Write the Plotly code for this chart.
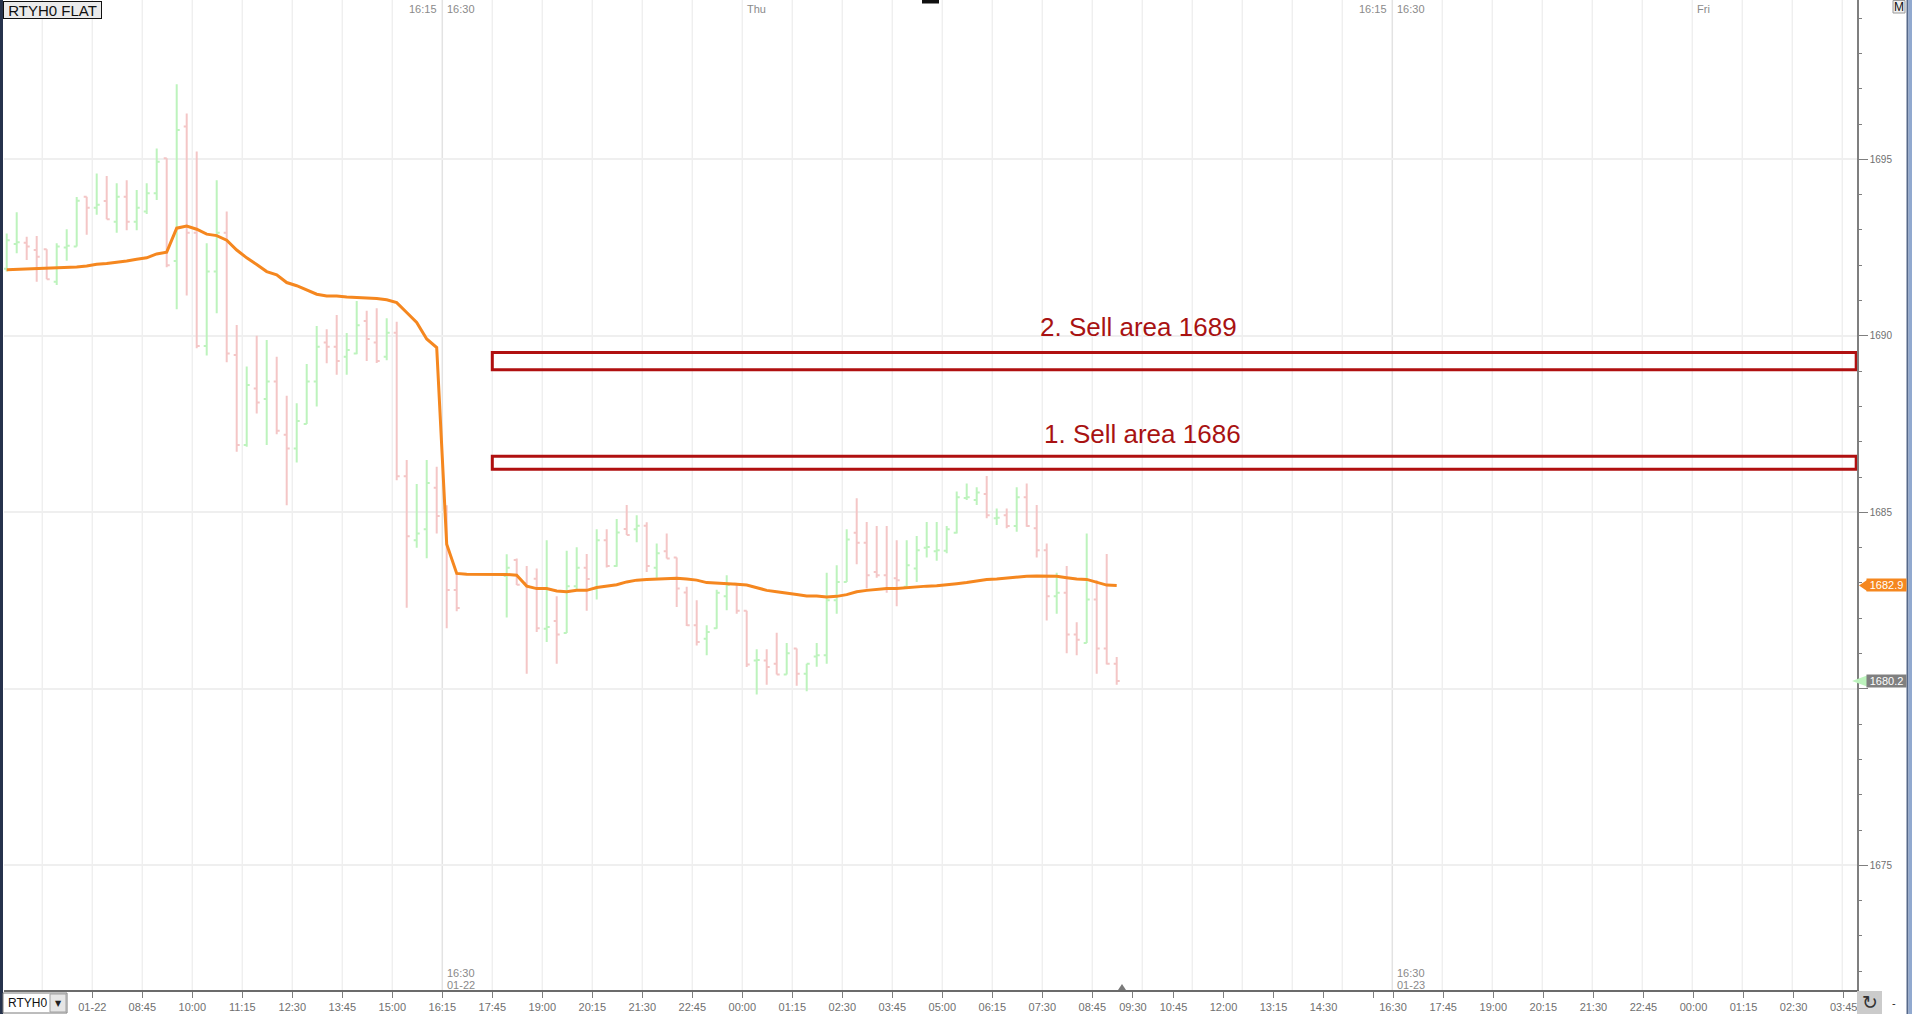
import plotly.graph_objects as go

# ---------------------------------------------------------------
# RTYH0, 15 minute bars (index 0 = first bar on screen)
# bars 46-49 are the session break (no prices, average line continues)
# ---------------------------------------------------------------
opens = [
    1691.90, 1692.60, 1692.64, 1692.43, 1692.45, 1691.53, 1692.50, 1692.53, 1693.94, 1693.63,
    1693.82, 1693.23, 1693.94, 1693.23, 1693.52, 1694.04, 1695.03, 1692.12, 1695.93, 1692.92,
    1689.71, 1691.82, 1692.92, 1689.46, 1686.91, 1688.51, 1688.21, 1688.71, 1687.20, 1686.81,
    1687.50, 1688.71, 1689.81, 1689.69, 1689.41, 1689.50, 1690.42, 1689.81, 1689.41, 1690.09,
    1686.02, 1684.21, 1684.52, 1685.70, 1685.11, 1682.80, None, None, None, None,
    1683.20, 1683.65, 1683.00, 1683.12, 1681.70, 1681.92, 1681.58, 1682.91, 1683.43, 1682.84,
    1684.21, 1683.48, 1684.53, 1684.52, 1684.62, 1683.43, 1683.90, 1683.72, 1682.73, 1681.80,
    1681.42, 1681.72, 1682.62, 1682.98, 1682.21, 1680.80, 1680.80, 1680.71, 1680.41, 1681.14,
    1680.43, 1680.92, 1680.95, 1682.51, 1683.03, 1684.42, 1684.14, 1683.31, 1683.22, 1683.13,
    1682.89, 1683.41, 1684.00, 1683.90, 1683.91, 1684.42, 1685.41, 1685.35, 1685.52, 1684.83,
    1684.92, 1684.61, 1685.43, 1684.55, 1683.93, 1682.62, 1682.72, 1681.54, 1681.30, 1682.53,
    1681.14, 1680.71,
]
highs = [
    1692.90, 1693.50, 1692.81, 1692.83, 1692.45, 1692.62, 1693.02, 1693.93, 1693.94, 1694.60,
    1694.53, 1694.32, 1694.41, 1694.13, 1694.32, 1695.31, 1695.03, 1697.13, 1696.30, 1695.22,
    1692.62, 1694.41, 1693.52, 1690.31, 1689.13, 1690.00, 1689.88, 1689.41, 1688.30, 1688.09,
    1689.20, 1690.28, 1690.19, 1690.59, 1690.08, 1690.99, 1690.71, 1690.78, 1690.50, 1690.40,
    1686.48, 1685.80, 1686.48, 1686.29, 1685.20, 1683.25, None, None, None, None,
    1683.81, 1683.69, 1683.48, 1683.41, 1684.21, 1682.62, 1683.91, 1684.01, 1683.82, 1684.52,
    1684.52, 1684.81, 1685.21, 1684.92, 1684.72, 1684.12, 1684.40, 1683.72, 1682.89, 1682.51,
    1681.80, 1682.81, 1683.22, 1682.98, 1682.21, 1681.12, 1681.12, 1681.59, 1681.30, 1681.14,
    1680.71, 1681.30, 1683.29, 1683.50, 1684.52, 1685.40, 1684.73, 1684.61, 1684.61, 1684.21,
    1684.21, 1684.33, 1684.73, 1684.73, 1684.61, 1685.59, 1685.82, 1685.71, 1686.03, 1685.11,
    1685.11, 1685.71, 1685.82, 1685.21, 1684.12, 1683.29, 1683.48, 1681.89, 1684.40, 1683.08,
    1683.82, 1680.90,
]
lows = [
    1691.82, 1692.34, 1692.15, 1691.53, 1691.60, 1691.44, 1692.13, 1692.53, 1692.86, 1693.43,
    1693.30, 1692.92, 1692.99, 1692.99, 1693.45, 1693.85, 1691.94, 1690.75, 1691.14, 1689.65,
    1689.44, 1690.64, 1689.25, 1686.72, 1686.86, 1687.80, 1686.91, 1687.21, 1685.20, 1686.41,
    1687.50, 1688.00, 1689.22, 1688.90, 1688.90, 1689.48, 1689.29, 1689.23, 1689.31, 1685.91,
    1682.30, 1684.00, 1683.70, 1684.40, 1681.72, 1682.20, None, None, None, None,
    1682.02, 1682.94, 1680.43, 1681.61, 1681.33, 1680.71, 1681.58, 1682.79, 1682.21, 1682.53,
    1683.44, 1683.46, 1684.36, 1684.15, 1683.31, 1683.15, 1683.69, 1682.32, 1681.78, 1681.23,
    1680.95, 1681.70, 1682.23, 1682.13, 1680.62, 1679.84, 1680.12, 1680.41, 1680.41, 1680.09,
    1679.93, 1680.63, 1680.71, 1682.13, 1683.03, 1683.53, 1682.84, 1683.15, 1682.72, 1682.34,
    1682.84, 1683.03, 1683.72, 1683.63, 1683.84, 1684.40, 1685.35, 1685.21, 1684.83, 1684.64,
    1684.55, 1684.45, 1684.59, 1683.72, 1681.94, 1682.13, 1681.01, 1680.95, 1681.30, 1680.43,
    1680.69, 1680.12,
]
closes = [
    1692.71, 1692.65, 1692.53, 1692.24, 1691.60, 1692.53, 1692.55, 1693.83, 1693.63, 1693.71,
    1693.30, 1693.94, 1693.23, 1693.63, 1694.04, 1694.93, 1692.00, 1695.83, 1692.92, 1689.71,
    1691.82, 1692.92, 1689.50, 1686.91, 1688.61, 1688.11, 1688.71, 1687.31, 1686.81, 1687.59,
    1688.71, 1689.69, 1689.69, 1689.29, 1689.60, 1690.30, 1689.91, 1689.29, 1690.09, 1686.02,
    1684.32, 1684.40, 1685.83, 1684.90, 1682.80, 1682.29, None, None, None, None,
    1683.43, 1682.95, 1682.90, 1681.72, 1681.75, 1681.54, 1682.91, 1683.43, 1683.11, 1684.21,
    1683.48, 1684.43, 1684.36, 1684.62, 1683.48, 1683.84, 1683.69, 1682.84, 1681.80, 1681.33,
    1681.61, 1682.72, 1682.94, 1682.21, 1680.69, 1680.82, 1680.62, 1680.41, 1681.01, 1680.43,
    1680.71, 1680.95, 1682.51, 1683.03, 1684.23, 1684.14, 1683.22, 1683.22, 1682.84, 1683.08,
    1683.50, 1683.93, 1684.02, 1683.93, 1684.52, 1685.43, 1685.43, 1685.56, 1684.92, 1684.85,
    1684.61, 1685.43, 1684.61, 1683.93, 1682.62, 1682.72, 1681.54, 1681.39, 1682.53, 1681.14,
    1680.71, 1680.22,
]
avg_line = [
    1691.87, 1691.88, 1691.90, 1691.91, 1691.91, 1691.91, 1691.94, 1691.95, 1691.98, 1692.03,
    1692.05, 1692.08, 1692.12, 1692.17, 1692.21, 1692.32, 1692.37, 1693.05, 1693.11, 1693.02,
    1692.88, 1692.84, 1692.71, 1692.43, 1692.21, 1692.02, 1691.82, 1691.73, 1691.51, 1691.42,
    1691.29, 1691.18, 1691.13, 1691.13, 1691.10, 1691.09, 1691.09, 1691.06, 1691.02, 1690.94,
    1690.66, 1690.38, 1689.91, 1689.67, 1684.10, 1683.27, 1683.25, 1683.25, 1683.25, 1683.25,
    1683.24, 1683.22, 1682.91, 1682.84, 1682.84, 1682.77, 1682.75, 1682.79, 1682.79, 1682.87,
    1682.92, 1682.95, 1683.03, 1683.08, 1683.10, 1683.11, 1683.13, 1683.13, 1683.11, 1683.08,
    1683.01, 1683.00, 1682.98, 1682.96, 1682.94, 1682.87, 1682.79, 1682.75, 1682.70, 1682.67,
    1682.63, 1682.63, 1682.60, 1682.62, 1682.67, 1682.75, 1682.79, 1682.82, 1682.84, 1682.84,
    1682.87, 1682.89, 1682.91, 1682.92, 1682.94, 1682.98, 1683.01, 1683.06, 1683.10, 1683.11,
    1683.14, 1683.15, 1683.19, 1683.20, 1683.19, 1683.19, 1683.15, 1683.11, 1683.10, 1683.01,
    1682.94, 1682.93,
]

# time axis (positions in bar slots)
tick_pos = [8.56 + 5 * k for k in range(21)] + [
    112.62, 116.68, 121.68, 126.68, 131.68, 136.68, 138.63, 143.65,
    148.66, 153.66, 158.67, 163.67, 168.68, 173.68, 178.69, 183.70,
]
tick_text = [
    "01-22", "08:45", "10:00", "11:15", "12:30", "13:45", "15:00", "16:15",
    "17:45", "19:00", "20:15", "21:30", "22:45", "00:00", "01:15", "02:30",
    "03:45", "05:00", "06:15", "07:30", "08:45",
    "09:30", "10:45", "12:00", "13:15", "14:30", "", "16:30", "17:45",
    "19:00", "20:15", "21:30", "22:45", "00:00", "01:15", "02:30", "03:45",
]

# price scale (1680 label sits under the last-price box)
price_ticks = [1675, 1680, 1685, 1690, 1695]
price_text = ["1675", "", "1685", "1690", "1695"]

# drawn sell zones: (label, low, high, label slot)
sell_zones = [
    ("2. Sell area 1689", 1689.04, 1689.53, 113.13),
    ("1. Sell area 1686", 1686.22, 1686.59, 113.56),
]
zone_start = 48.56

# ---------------------------------------------------------------
W, H = 1912, 1014
ML, MR, MT, MB = 4, 55, 0, 24
PW, PH = W - ML - MR, H - MT - MB
X_RANGE = [-0.27, 185.03]
Y_RANGE = [1671.47, 1699.513]

GREEN = "#bdf3bd"
PINK = "#f4c6c6"
ORANGE = "#f5871f"
ZONE_RED = "#b01010"
GRID = "#efefef"
AXIS_GRAY = "#7f7f7f"
TXT_GRAY = "#6f6f6f"
FONT = "Liberation Sans, Arial, sans-serif"
NARROW = "Liberation Sans Narrow, Liberation Sans, Arial, sans-serif"


def px_x(px):
    return (px - ML) / PW


def px_y(py):
    return 1 - (py - MT) / PH


def label(text, x, y, size, color, family=FONT, xanchor="center", yanchor="middle", **kw):
    return dict(text=text, xref="paper", yref="paper", x=px_x(x), y=px_y(y), xanchor=xanchor,
                yanchor=yanchor, showarrow=False, font=dict(family=family, size=size, color=color), **kw)


idx = [i for i in range(len(opens)) if opens[i] is not None]

fig = go.Figure()
fig.add_trace(go.Ohlc(
    x=idx,
    open=[opens[i] for i in idx],
    high=[highs[i] for i in idx],
    low=[lows[i] for i in idx],
    close=[closes[i] for i in idx],
    increasing=dict(line=dict(color=GREEN, width=2)),
    decreasing=dict(line=dict(color=PINK, width=2)),
    tickwidth=0.3,
    hoverinfo="skip",
    showlegend=False,
))
fig.add_trace(go.Scatter(
    x=list(range(len(avg_line))),
    y=avg_line,
    mode="lines",
    line=dict(color=ORANGE, width=3),
    hoverinfo="skip",
    showlegend=False,
))

shapes = []
# vertical grid every 5 slots, session breaks a bit darker
for k in range(37):
    gx = 3.56 + 5 * k
    shapes.append(dict(type="line", xref="x", yref="paper", x0=gx, x1=gx, y0=0, y1=1,
                       line=dict(color="#e3e3e3" if k in (8, 27) else GRID, width=1.5),
                       layer="below"))

for text, lo, hi, tx in sell_zones:
    shapes.append(dict(type="rect", xref="x", yref="y", x0=zone_start, x1=X_RANGE[1] - 0.08,
                       y0=lo, y1=hi, line=dict(color=ZONE_RED, width=3)))

# price markers on the right scale
last_avg = avg_line[-1]
last_close = closes[-1]
hh = 5.5 / 35.3
shapes.append(dict(type="path", xref="paper", yref="y", fillcolor=ORANGE, line=dict(width=0),
                   path=f"M {px_x(1859)} {last_avg} L {px_x(1867)} {last_avg + hh} "
                        f"L {px_x(1867)} {last_avg - hh} Z"))
shapes.append(dict(type="path", xref="paper", yref="y", fillcolor=GREEN, line=dict(width=0),
                   path=f"M {px_x(1852)} {last_close} L {px_x(1867)} {last_close + hh} "
                        f"L {px_x(1867)} {last_close - hh} Z"))

# window chrome
shapes += [
    dict(type="rect", xref="paper", yref="paper", x0=px_x(0), x1=px_x(3), y0=px_y(H), y1=px_y(0),
         fillcolor="#26324c", line=dict(width=0)),
    dict(type="rect", xref="paper", yref="paper", x0=px_x(1906.5), x1=px_x(1908.5), y0=px_y(H), y1=px_y(0),
         fillcolor="#56698a", line=dict(width=0)),
    dict(type="rect", xref="paper", yref="paper", x0=px_x(1908.5), x1=px_x(1912), y0=px_y(H), y1=px_y(0),
         fillcolor="#91a9cf", line=dict(width=0)),
    dict(type="rect", xref="paper", yref="paper", x0=px_x(922), x1=px_x(939), y0=px_y(3.5), y1=px_y(0),
         fillcolor="#111111", line=dict(width=0)),
    dict(type="rect", xref="paper", yref="paper", x0=px_x(1893), x1=px_x(1905), y0=px_y(13), y1=px_y(0.5),
         fillcolor="#eeeeee", line=dict(color="#9a9a9a", width=1)),
    dict(type="path", xref="paper", yref="paper", fillcolor="#7a7a7a", line=dict(width=0),
         path=f"M {px_x(1118)} {px_y(990)} L {px_x(1126)} {px_y(990)} L {px_x(1122)} {px_y(984)} Z"),
    dict(type="rect", xref="paper", yref="paper", x0=px_x(3), x1=px_x(67), y0=px_y(1013), y1=px_y(993),
         fillcolor="white", line=dict(color="#7a7a7a", width=1)),
    dict(type="rect", xref="paper", yref="paper", x0=px_x(50), x1=px_x(66), y0=px_y(1012), y1=px_y(994),
         fillcolor="#e6e6e6", line=dict(color="#a0a0a0", width=1)),
    dict(type="rect", xref="paper", yref="paper", x0=px_x(1857), x1=px_x(1882), y0=px_y(1014), y1=px_y(991),
         fillcolor="#cbcbcb", line=dict(width=0)),
]

ann = []
for text, lo, hi, tx in sell_zones:
    ann.append(dict(text=text, xref="x", yref="y", x=tx, y=hi + 0.72 if hi > 1688 else hi + 0.63,
                    xanchor="center", yanchor="middle", showarrow=False,
                    font=dict(family=FONT, size=26, color="#a81212")))

for value, bg in [(last_avg, ORANGE), (last_close, "#808080")]:
    ann.append(dict(text=f"{value:.1f}", xref="paper", yref="y", x=px_x(1866), y=value,
                    xanchor="left", yanchor="middle", showarrow=False, bgcolor=bg,
                    width=39, height=12, borderpad=0,
                    font=dict(family=FONT, size=11, color="white")))

# symbol box
ann.append(label("RTYH0 FLAT", 2.5, 1, 15, "#111111", xanchor="left", yanchor="top",
                 bgcolor="#ebebeb", bordercolor="#111111", borderwidth=1, borderpad=0,
                 width=97, height=16))

# top session / day labels
for text, gx, anchor, shift in [("16:15", 43.56, "right", -3), ("16:30", 43.56, "left", 3),
                                ("Thu", 73.56, "left", 3), ("16:15", 138.56, "right", -3),
                                ("16:30", 138.56, "left", 3), ("Fri", 168.56, "left", 3)]:
    ann.append(dict(text=text, xref="x", yref="paper", x=gx, y=px_y(1), xanchor=anchor,
                    yanchor="top", xshift=shift, showarrow=False,
                    font=dict(family=NARROW, size=11, color="#8a8a8a")))

# session date labels near the bottom
for gx, day in [(43.56, "01-22"), (138.56, "01-23")]:
    for text, py in [("16:30", 973), (day, 984.5)]:
        ann.append(dict(text=text, xref="x", yref="paper", x=gx, y=px_y(py), xanchor="left",
                        yanchor="middle", xshift=3, showarrow=False,
                        font=dict(family=NARROW, size=11, color="#8a8a8a")))

ann += [
    label("M", 1899, 7, 12, "#111111"),
    label("RTYH0", 6, 1003, 12, "#111111", family=NARROW, xanchor="left"),
    label("▼", 58, 1003, 8, "#222222", family="DejaVu Sans"),
    label("↻", 1869.5, 1002.5, 19, "#333333", family="DejaVu Sans"),
    label("-", 1894, 1003, 11, "#222222"),
]

fig.update_layout(
    width=W,
    height=H,
    margin=dict(l=ML, r=MR, t=MT, b=MB, pad=0),
    paper_bgcolor="white",
    plot_bgcolor="white",
    showlegend=False,
    hovermode=False,
    shapes=shapes,
    annotations=ann,
    xaxis=dict(
        range=X_RANGE,
        rangeslider=dict(visible=False),
        tickmode="array",
        tickvals=tick_pos,
        ticktext=tick_text,
        showgrid=False,
        zeroline=False,
        showline=True,
        linecolor="#6b6b6b",
        linewidth=2,
        ticks="outside",
        ticklen=6,
        tickcolor=AXIS_GRAY,
        tickfont=dict(family=NARROW, size=11, color=TXT_GRAY),
        automargin=False,
        fixedrange=True,
    ),
    yaxis=dict(
        range=Y_RANGE,
        side="right",
        tickmode="array",
        tickvals=price_ticks,
        ticktext=price_text,
        showgrid=True,
        gridcolor=GRID,
        gridwidth=1.5,
        zeroline=False,
        showline=True,
        linecolor=AXIS_GRAY,
        linewidth=1.5,
        ticks="outside",
        ticklen=9,
        tickcolor=AXIS_GRAY,
        minor=dict(dtick=1, tick0=1675, ticks="outside", ticklen=3, tickcolor=AXIS_GRAY,
                   showgrid=False),
        tickfont=dict(family=FONT, size=10, color=TXT_GRAY),
        automargin=False,
        fixedrange=True,
    ),
)

fig.write_html(
    "out.html",
    config={"displayModeBar": False},
    post_script="document.body.style.margin='0';document.body.style.overflow='hidden';",
)
